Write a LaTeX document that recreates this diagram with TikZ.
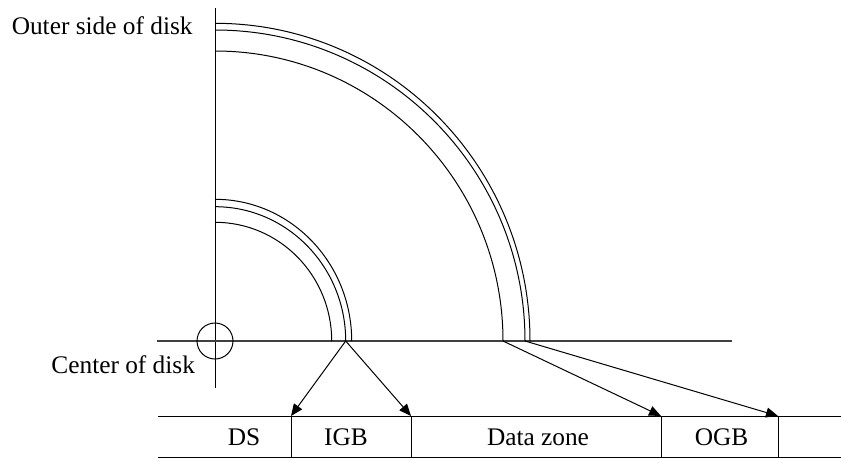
\documentclass[tikz,border=0pt]{standalone}
\usepackage{fontspec}
\setmainfont{Liberation Serif}
\usetikzlibrary{arrows.meta}
\begin{document}
\begin{tikzpicture}[x=0.75pt,y=0.75pt,
  thin line/.style={line width=0.75pt,black},
  axis line/.style={line width=0.9pt,black!75},
  arr/.style={line width=0.75pt,-{Triangle[length=9pt,width=7.5pt]}},
  lbl/.style={font=\fontsize{19}{22}\selectfont,inner sep=0pt}]
\useasboundingbox (-215,-117) rectangle (626,341);
% axes
\coordinate (vtop) at (0,333);
\coordinate (vbot) at (0,-47);
\coordinate (hl) at (-58,0);
\coordinate (hr) at (517,0);
\draw[thin line] (vbot) -- (vtop);
\draw[axis line] (hl) -- (hr);
\node[circle,draw,line width=0.75pt,minimum size=27,inner sep=0pt] (ctr) at (0,0) {};
% outer arcs
\draw[thin line] (0,317.7) arc[start angle=90,end angle=0,x radius=315,y radius=317.7];
\draw[thin line] (0,311) arc[start angle=90,end angle=0,x radius=310,y radius=311];
\draw[thin line] (0,290) arc[start angle=90,end angle=0,x radius=288,y radius=290];
% inner arcs
\draw[thin line] (0,141.7) arc[start angle=90,end angle=0,x radius=136.7,y radius=141.7];
\draw[thin line] (0,134.3) arc[start angle=90,end angle=0,x radius=130.7,y radius=134.3];
\draw[thin line] (0,118.7) arc[start angle=90,end angle=0,x radius=116.7,y radius=118.7];
% arrow sources
\coordinate (s1) at (130.7,0);
\coordinate (s2) at (288,0);
\coordinate (s3) at (310,0);
% strip
\coordinate (stl) at (-57,-75);
\coordinate (str) at (626,-75);
\coordinate (sbl) at (-57,-116);
\coordinate (sbr) at (626,-116);
\draw[thin line] (stl) -- (str);
\draw[thin line] (sbl) -- (sbr);
\coordinate (d1) at (76,-75);
\coordinate (d2) at (196,-75);
\coordinate (d3) at (446,-75);
\coordinate (d4) at (563,-75);
\coordinate (e1) at (76,-116);
\coordinate (e2) at (196,-116);
\coordinate (e3) at (446,-116);
\coordinate (e4) at (563,-116);
\draw[thin line] (d1) -- (e1);
\draw[thin line] (d2) -- (e2);
\draw[thin line] (d3) -- (e3);
\draw[thin line] (d4) -- (e4);
% arrows
\draw[arr] (s1) -- (d1);
\draw[arr] (s1) -- (d2);
\draw[arr] (s2) -- (d3);
\draw[arr] (s3) -- (d4);
% labels
\node[lbl,anchor=base west] (outer) at (-203.5,307) {Outer side of disk};
\node[lbl,anchor=base west] (center) at (-163.8,-32.5) {Center of disk};
\node[lbl,anchor=base] (ds) at (29,-104) {DS};
\node[lbl,anchor=base] (igb) at (131,-104) {IGB};
\node[lbl,anchor=base] (dz) at (323,-104) {Data zone};
\node[lbl,anchor=base] (ogb) at (506.5,-104) {OGB};
\end{tikzpicture}
\end{document}
